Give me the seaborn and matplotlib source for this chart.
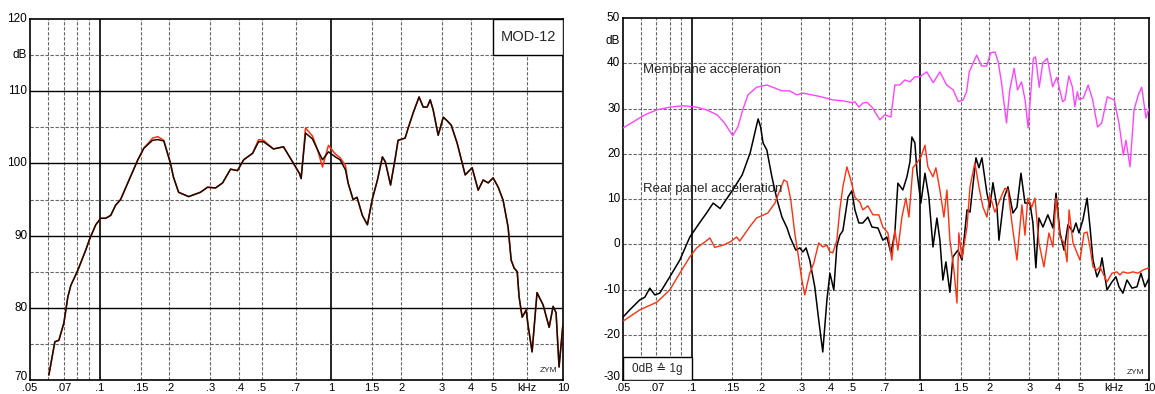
import matplotlib
matplotlib.use('Agg')
import matplotlib.pyplot as plt
import matplotlib.transforms as mtransforms
import seaborn as sns
from matplotlib.patches import Rectangle

# ---- left panel: MOD-12 response (kHz, dB) ----
left_freq = [0.0603, 0.064, 0.0666, 0.070, 0.0728, 0.075, 0.0804, 0.087, 0.0906, 0.0961,
             0.101, 0.106, 0.1115, 0.117, 0.123, 0.146, 0.155, 0.169, 0.178, 0.189,
             0.202, 0.208, 0.219, 0.242, 0.272, 0.292, 0.316, 0.339, 0.367, 0.393,
             0.418, 0.457, 0.485, 0.509, 0.562, 0.621, 0.686, 0.728, 0.740, 0.773,
             0.828, 0.871, 0.915, 0.971, 1.04, 1.09, 1.15, 1.18, 1.24, 1.29,
             1.36, 1.43, 1.50, 1.58, 1.66, 1.71, 1.80, 1.89, 1.94, 2.08,
             2.15, 2.26, 2.39, 2.49, 2.59, 2.67, 2.75, 2.89, 3.04, 3.16,
             3.29, 3.49, 3.78, 4.05, 4.30, 4.52, 4.75, 4.99, 5.25, 5.51,
             5.79, 5.97, 6.15, 6.34, 6.46, 6.66, 6.93, 7.06, 7.35, 7.72,
             8.2, 8.71, 9.06, 9.33, 9.61, 10.0]
left_black = [70.7, 75.3, 75.5, 77.9, 81.5, 83.1, 85.2, 88.0, 89.6, 91.5,
              92.4, 92.4, 92.8, 94.2, 95.0, 100.5, 102.1, 103.2, 103.3, 103.1,
              100.0, 98.1, 96.0, 95.4, 96.0, 96.7, 96.6, 97.3, 99.2, 99.0,
              100.5, 101.4, 103.0, 103.0, 102.0, 102.3, 100.0, 98.6, 97.9, 104.2,
              103.4, 101.9, 100.5, 101.6, 100.9, 100.5, 99.1, 97.3, 95.0, 95.3,
              92.8, 91.5, 95.0, 97.7, 100.9, 100.2, 97.0, 100.9, 103.2, 103.5,
              105.0, 107.1, 109.2, 107.8, 107.8, 108.8, 107.4, 103.9, 106.4, 105.9,
              105.3, 102.8, 98.4, 99.4, 96.3, 97.7, 97.3, 98.0, 96.7, 94.9,
              91.2, 86.6, 85.5, 85.0, 81.5, 78.7, 79.7, 77.6, 73.9, 82.1,
              80.4, 77.3, 80.2, 79.3, 71.8, 77.9]
left_red = [70.7, 75.3, 75.5, 77.9, 81.5, 83.1, 85.2, 88.0, 89.6, 91.5,
            92.4, 92.4, 92.8, 94.2, 95.0, 100.5, 102.1, 103.5, 103.7, 103.2,
            100.0, 98.1, 96.0, 95.4, 96.0, 96.7, 96.6, 97.3, 99.2, 99.0,
            100.5, 101.4, 103.3, 103.2, 102.0, 102.3, 100.0, 98.6, 97.9, 104.9,
            103.8, 101.9, 99.5, 102.5, 101.3, 100.8, 99.7, 97.3, 95.0, 95.3,
            92.8, 91.5, 95.0, 97.7, 100.9, 100.2, 97.0, 100.9, 103.2, 103.5,
            105.0, 107.1, 109.2, 107.8, 107.8, 108.8, 107.4, 103.9, 106.4, 105.9,
            105.3, 102.8, 98.4, 99.4, 96.3, 97.7, 97.3, 98.0, 96.7, 94.9,
            91.2, 86.6, 85.5, 85.0, 81.5, 78.7, 79.7, 77.6, 73.9, 82.1,
            80.4, 77.3, 80.2, 79.3, 71.8, 77.9]

# ---- right panel: membrane acceleration ----
mem_freq = [0.05, 0.0623, 0.0703, 0.0801, 0.0914, 0.105, 0.116, 0.129, 0.139, 0.151,
            0.159, 0.167, 0.176, 0.192, 0.213, 0.226, 0.248, 0.268, 0.288, 0.306,
            0.352, 0.374, 0.414, 0.458, 0.501, 0.517, 0.538, 0.560, 0.583, 0.614,
            0.665, 0.699, 0.743, 0.773, 0.813, 0.855, 0.900, 0.946, 0.995, 1.065,
            1.138, 1.217, 1.302, 1.393, 1.464, 1.539, 1.592, 1.636, 1.762, 1.853,
            1.949, 2.03, 2.12, 2.19, 2.265, 2.38, 2.46, 2.57, 2.66, 2.77,
            2.87, 2.96, 3.12, 3.19, 3.31, 3.43, 3.59, 3.79, 3.95, 4.19,
            4.29, 4.46, 4.62, 4.74, 4.86, 4.95, 5.16, 5.42, 5.67, 5.96,
            6.21, 6.57, 6.75, 7.05, 7.41, 7.72, 7.93, 8.26, 8.6, 8.98,
            9.29, 9.70, 10.0]
mem_db = [25.7, 28.6, 29.7, 30.3, 30.6, 30.3, 29.7, 28.6, 26.8, 24.0,
          25.9, 29.7, 33.0, 34.7, 35.2, 34.7, 33.9, 33.9, 33.0, 33.4,
          32.8, 32.5, 31.9, 31.7, 31.3, 31.5, 30.3, 31.2, 31.4, 30.3,
          27.5, 28.6, 28.1, 35.2, 35.2, 36.3, 35.9, 37.0, 37.0, 38.1,
          35.7, 38.1, 35.2, 34.1, 31.5, 31.9, 33.7, 38.1, 41.8, 39.4,
          39.4, 42.3, 42.5, 40.3, 35.6, 26.8, 34.1, 38.9, 34.1, 35.9,
          31.9, 25.7, 41.1, 41.4, 34.7, 40.1, 41.1, 34.8, 36.9, 31.5,
          31.9, 37.2, 34.8, 30.4, 33.7, 32.0, 32.3, 35.2, 31.9, 25.9,
          26.8, 32.6, 32.3, 31.9, 26.4, 19.7, 23.0, 17.1, 29.7, 33.0,
          34.7, 27.9, 30.1]

# ---- right panel: rear panel acceleration, black ----
rear_k_freq = [0.05, 0.0535, 0.0592, 0.0623, 0.0655, 0.0689, 0.0724, 0.0801, 0.0886, 0.098,
               0.108, 0.116, 0.124, 0.133, 0.151, 0.166, 0.18, 0.189, 0.195, 0.200,
               0.205, 0.213, 0.224, 0.236, 0.248, 0.261, 0.269, 0.285, 0.297, 0.306,
               0.316, 0.328, 0.345, 0.359, 0.374, 0.390, 0.402, 0.418, 0.431, 0.444,
               0.458, 0.482, 0.501, 0.517, 0.538, 0.560, 0.589, 0.614, 0.652, 0.685,
               0.713, 0.743, 0.773, 0.797, 0.838, 0.873, 0.900, 0.918, 0.946, 0.966,
               1.005, 1.047, 1.089, 1.135, 1.181, 1.217, 1.254, 1.293, 1.346, 1.387,
               1.459, 1.52, 1.599, 1.648, 1.750, 1.803, 1.858, 1.954, 2.014, 2.076,
               2.162, 2.206, 2.32, 2.415, 2.54, 2.644, 2.754, 2.867, 3.015, 3.106,
               3.2, 3.30, 3.436, 3.61, 3.80, 3.92, 4.08, 4.25, 4.42, 4.65,
               4.79, 4.94, 5.14, 5.36, 5.52, 5.69, 5.92, 6.1, 6.23, 6.55,
               6.89, 7.17, 7.39, 7.69, 8.01, 8.43, 8.86, 9.22, 9.60, 10.0]
rear_k_db = [-16.1, -14.5, -12.3, -11.7, -9.7, -11.2, -10.8, -7.2, -3.5, 1.6,
             4.7, 6.9, 9.1, 7.9, 12.0, 15.3, 20.2, 24.8, 27.7, 25.9,
             22.4, 20.8, 14.9, 9.8, 6.0, 3.6, 1.6, -1.3, -0.8, -1.7,
             -0.8, -3.5, -9.4, -16.7, -23.8, -12.3, -6.4, -10.1, -0.4, 2.0,
             3.0, 10.4, 11.8, 7.6, 4.7, 4.7, 6.0, 3.8, 3.6, 0.9,
             1.6, -1.9, 2.5, 13.5, 12.0, 14.9, 18.2, 23.7, 22.4, 16.0,
             9.1, 15.7, 10.4, -0.6, 5.8, 0.9, -7.9, -3.9, -10.6, -2.8,
             -1.3, -3.5, 7.6, 7.1, 19.1, 16.9, 19.1, 11.3, 8.2, 13.6,
             8.2, 0.9, 10.2, 12.7, 6.9, 8.2, 15.7, 9.1, 9.1, 4.7,
             -5.2, 5.8, 3.8, 6.5, 3.6, 11.3, 2.5, -1.3, 4.3, 2.7,
             4.7, 2.5, 5.4, 10.2, 3.8, -3.5, -7.2, -5.7, -3.0, -10.1,
             -8.3, -7.2, -9.4, -10.8, -7.9, -9.7, -9.4, -6.4, -9.4, -7.5]

# ---- right panel: rear panel acceleration, red ----
rear_r_freq = [0.05, 0.0592, 0.0703, 0.0801, 0.0886, 0.098, 0.105, 0.114, 0.120, 0.126,
               0.137, 0.147, 0.157, 0.162, 0.180, 0.192, 0.215, 0.231, 0.243, 0.253,
               0.261, 0.271, 0.282, 0.291, 0.303, 0.312, 0.328, 0.342, 0.359, 0.374,
               0.390, 0.402, 0.414, 0.431, 0.444, 0.458, 0.477, 0.496, 0.517, 0.543,
               0.560, 0.589, 0.620, 0.658, 0.685, 0.721, 0.750, 0.773, 0.797, 0.830,
               0.864, 0.891, 0.927, 0.966, 1.005, 1.047, 1.078, 1.135, 1.169, 1.217,
               1.267, 1.306, 1.346, 1.402, 1.445, 1.473, 1.52, 1.599, 1.648, 1.731,
               1.803, 1.878, 1.954, 2.014, 2.118, 2.228, 2.274, 2.344, 2.415, 2.514,
               2.644, 2.78, 2.867, 2.95, 3.07, 3.17, 3.30, 3.47, 3.65, 3.80,
               3.92, 4.08, 4.25, 4.38, 4.47, 4.65, 4.84, 4.99, 5.20, 5.36,
               5.52, 5.69, 5.92, 6.1, 6.29, 6.55, 6.89, 7.24, 7.46, 7.69,
               8.09, 8.51, 8.95, 9.41, 10.0]
rear_r_db = [-17.0, -14.5, -12.8, -10.1, -6.4, -2.8, -0.8, 0.5, 1.4, -0.7,
             -0.2, 0.5, 1.6, 0.7, 4.0, 5.8, 6.9, 9.1, 12.0, 14.2,
             13.8, 9.8, 2.5, -1.9, -7.9, -11.2, -6.4, -4.1, 0.3, -0.6,
             -0.2, -1.7, -1.9, 0.9, 7.6, 12.7, 17.1, 14.2, 10.4, 9.3,
             7.6, 8.5, 6.5, 6.5, 3.8, 2.5, -3.5, 3.2, -1.3, 6.0,
             10.2, 6.0, 16.9, 18.0, 19.3, 21.9, 17.1, 14.9, 16.9, 12.0,
             6.0, 12.0, 0.9, -5.7, -13.0, 2.5, -3.0, 3.8, 12.7, 18.0,
             12.7, 8.2, 6.0, 10.9, 7.1, 9.8, 10.9, 12.4, 12.0, 4.7,
             -3.5, 8.7, 2.0, 10.2, 8.2, 10.2, 0.3, -5.0, 2.5, -0.6,
             10.2, 1.6, 0.3, -3.9, 7.6, 0.3, -1.9, -3.5, 2.5, 2.7,
             -0.6, -5.0, -5.7, -5.0, -6.4, -8.3, -6.4, -6.1, -6.8, -6.1,
             -6.4, -6.1, -6.4, -5.7, -5.2]

# ticks / grid
tick_pos = [0.05, 0.07, 0.1, 0.15, 0.2, 0.3, 0.4, 0.5, 0.7, 1, 1.5, 2, 3, 4, 5, 7, 10]
tick_lab = ['.05', '.07', '.1', '.15', '.2', '.3', '.4', '.5', '.7', '1', '1.5', '2', '3', '4', '5', 'kHz', '10']
dash_x = [0.06, 0.07, 0.08, 0.09, 0.15, 0.2, 0.3, 0.4, 0.5, 0.7, 1.5, 2, 3, 4, 5, 7]
solid_x = [0.1, 1]

sns.set_style('white')
plt.rcParams['font.family'] = ['Liberation Sans', 'DejaVu Sans']

fig = plt.figure(figsize=(11.55, 3.94), dpi=100)
ax1 = fig.add_axes([0.026, 0.0355, 0.4615, 0.9163])
ax2 = fig.add_axes([0.5394, 0.0355, 0.4554, 0.9188])

dash_style = (0, (3, 1.5))
lift = mtransforms.ScaledTranslation(0, 1.5 / 100, fig.dpi_scale_trans)
lift_low = mtransforms.ScaledTranslation(0, 5 / 100, fig.dpi_scale_trans)


def base_axes(ax, ylo, yhi):
    ax.set_xscale('log')
    ax.set_xlim(0.05, 10)
    ax.set_ylim(ylo, yhi)
    ax.set_xticks(tick_pos)
    ax.set_xticklabels(tick_lab)
    ax.minorticks_off()
    ax.tick_params(length=0, labelsize=8.5, colors='black')
    ax.tick_params(axis='x', pad=2, labelsize=8)
    ax.tick_params(axis='y', pad=2)
    for f in dash_x:
        ax.axvline(f, color='0.4', lw=0.8, ls=dash_style, zorder=1)
    for f in solid_x:
        ax.axvline(f, color='black', lw=1.2, zorder=1)
    for s in ax.spines.values():
        s.set_color('black')
        s.set_linewidth(1.2)
    ax.set_xlabel('')
    ax.set_ylabel('')


# left panel
base_axes(ax1, 70, 120)
for y in [80, 90, 100, 110]:
    ax1.axhline(y, color='black', lw=1.0, zorder=1)
for y in [75, 85, 95, 105, 115]:
    ax1.axhline(y, color='0.4', lw=0.8, ls=dash_style, zorder=1)
ax1.set_yticks([70, 80, 90, 100, 110, 115, 120])
ax1.set_yticklabels(['70', '80', '90', '100', '110', 'dB', '120'])

sns.lineplot(x=left_freq, y=left_red, ax=ax1, color='#ff3010', lw=1.1,
             sort=False, estimator=None, zorder=3)
sns.lineplot(x=left_freq, y=left_black, ax=ax1, color='#1a0a00', lw=1.1,
             sort=False, estimator=None, zorder=4)

ax1.add_patch(Rectangle((5, 115), 5, 5, facecolor='white', edgecolor='black',
                        lw=1.0, zorder=5))
ax1.text(7.07, 117.5, 'MOD-12', ha='center', va='center', fontsize=10.5, zorder=6)
ax1.text(8.7, 71.3, 'ZYM', ha='center', va='center', fontsize=6, zorder=6)

# right panel
base_axes(ax2, -30, 50)
for y in range(-20, 50, 10):
    ax2.axhline(y, color='0.4', lw=0.8, ls=dash_style, zorder=1)
ax2.set_yticks([-30, -20, -10, 0, 10, 20, 30, 40, 45, 50])
ax2.set_yticklabels(['-30', '-20', '-10', '0', '10', '20', '30', '40', 'dB', '50'])

sns.lineplot(x=mem_freq, y=mem_db, ax=ax2, color='#ff44ff', lw=1.0,
             sort=False, estimator=None, zorder=3)
sns.lineplot(x=rear_k_freq, y=rear_k_db, ax=ax2, color='black', lw=1.1,
             sort=False, estimator=None, zorder=3)
sns.lineplot(x=rear_r_freq, y=rear_r_db, ax=ax2, color='#ff3010', lw=1.0,
             sort=False, estimator=None, zorder=4)

ax2.text(0.061, 38.5, 'Membrane acceleration', ha='left', va='center', fontsize=9.5, zorder=6)
ax2.text(0.061, 12.2, 'Rear panel acceleration', ha='left', va='center', fontsize=9.5, zorder=6)
ax2.add_patch(Rectangle((0.05, -30), 0.05, 5, facecolor='white', edgecolor='black',
                        lw=1.0, zorder=5))
ax2.text(0.0707, -27.5, '0dB \u2259 1g', ha='center', va='center', fontsize=8.5,
         family=['Liberation Sans', 'DejaVu Sans'], zorder=6)
ax2.text(8.7, -28.3, 'ZYM', ha='center', va='center', fontsize=6, zorder=6)

for ax in (ax1, ax2):
    labels = ax.get_yticklabels()
    for i, lab in enumerate(labels):
        lab.set_transform(lab.get_transform() + (lift_low if i == 0 else lift))

fig.savefig('out.png', dpi=100)
